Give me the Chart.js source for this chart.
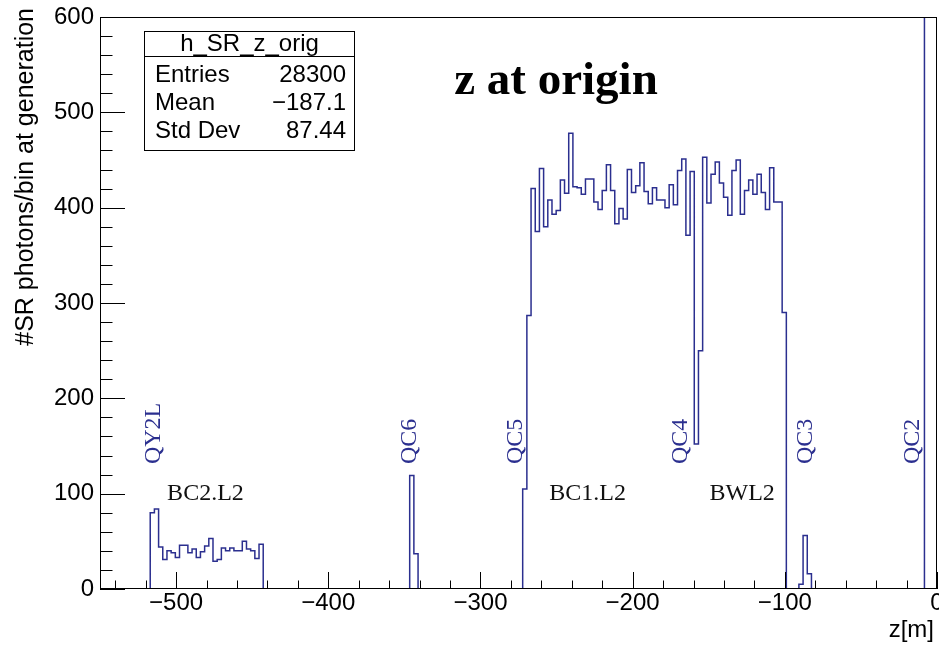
<!DOCTYPE html>
<html>
<head>
<meta charset="utf-8">
<script src="https://cdn.jsdelivr.net/npm/chart.js@4.4.0/dist/chart.umd.min.js"></script>
<style>
  html, body { margin: 0; padding: 0; background: #fff; }
</style>
</head>
<body>
<canvas id="c" width="939" height="645"></canvas>
<script>
// h_SR_z_orig : 200 bins from -550 m to 0 m
const zMin = -550;
const zMax = 0;
const nBins = 200;

// bin contents, 20 bins per row (last row: QC2 bins go off scale)
const counts = [
  0, 0, 0, 0, 0, 0, 0, 0, 0, 0, 0, 0, 80, 84, 44, 31, 40, 38, 33, 46,
  46, 38, 42, 33, 39, 45, 53, 29, 31, 43, 40, 43, 40, 40, 50, 42, 40, 32, 47, 0,
  0, 0, 0, 0, 0, 0, 0, 0, 0, 0, 0, 0, 0, 0, 0, 0, 0, 0, 0, 0,
  0, 0, 0, 0, 0, 0, 0, 0, 0, 0, 0, 0, 0, 0, 119, 37, 0, 0, 0, 0,
  0, 0, 0, 0, 0, 0, 0, 0, 0, 0, 0, 0, 0, 0, 0, 0, 0, 0, 0, 0,
  0, 105, 287, 420, 375, 441, 380, 408, 393, 397, 429, 415, 478, 422, 421, 414, 430, 430, 406, 398,
  418, 445, 418, 383, 399, 388, 440, 416, 423, 447, 417, 404, 421, 408, 408, 400, 424, 403, 439, 451,
  371, 438, 152, 250, 453, 405, 435, 448, 426, 411, 392, 439, 450, 393, 418, 429, 414, 435, 416, 398,
  442, 406, 406, 290, 0, 0, 0, 5, 56, 16, 0, 0, 0, 0, 0, 0, 0, 0, 0, 0,
  0, 0, 0, 0, 0, 0, 0, 0, 0, 0, 0, 0, 0, 0, 0, 0, 0, 640, 660, 620
];

const xTicks = [-500, -400, -300, -200, -100, 0];
const yTicks = [0, 100, 200, 300, 400, 500, 600];
const xMinorStep = 20;
const yMinorStep = 20;

// magnet names (blue, vertical) and their z
const magnetNames = ['QY2L', 'QC6', 'QC5', 'QC4', 'QC3', 'QC2'];
const magnetZ = [-514.5, -346.5, -277, -168.5, -86.5, -16];

// section names (black) and their z
const sectionNames = ['BC2.L2', 'BC1.L2', 'BWL2'];
const sectionZ = [-480.7, -229.6, -128];

// stats box
const statsTitle = 'h_SR_z_orig';
const statsLabels = ['Entries', 'Mean', 'Std Dev'];
const statsValues = ['28300', '\u2212187.1', '87.44'];

const binW = (zMax - zMin) / nBins;
const points = counts.map((c, i) => ({ x: zMin + i * binW, y: c }));
points.push({ x: zMax, y: counts[nBins - 1] });

const blue = '#2b2f8f';
const sans = '"Liberation Sans", Arial, Helvetica, sans-serif';
const serif = '"Liberation Serif", "Times New Roman", serif';

function fmt(v) {
  return v < 0 ? '\u2212' + Math.abs(v) : String(v);
}

const rootFrame = {
  id: 'rootFrame',
  afterDraw(chart) {
    const ctx = chart.ctx;
    const a = chart.chartArea;
    const x = chart.scales.x;
    const y = chart.scales.y;
    ctx.save();

    // frame
    ctx.strokeStyle = '#000';
    ctx.lineWidth = 1;
    ctx.strokeRect(Math.round(a.left) + 0.5, Math.round(a.top) + 0.5,
      Math.round(a.right - a.left) - 1, Math.round(a.bottom - a.top) - 1);

    // ticks pointing inside
    ctx.beginPath();
    for (let v = Math.ceil(zMin / xMinorStep) * xMinorStep; v <= zMax; v += xMinorStep) {
      const px = Math.round(x.getPixelForValue(v)) + 0.5;
      const len = v % 100 === 0 ? 17 : 8.5;
      ctx.moveTo(px, a.bottom);
      ctx.lineTo(px, a.bottom - len);
    }
    for (let v = 0; v <= 600; v += yMinorStep) {
      const py = Math.round(y.getPixelForValue(v)) + 0.5;
      const len = v % 100 === 0 ? 25 : 12.5;
      ctx.moveTo(a.left, py);
      ctx.lineTo(a.left + len, py);
    }
    ctx.stroke();

    // axis titles
    ctx.fillStyle = '#000';
    ctx.font = '24px ' + sans;
    ctx.textAlign = 'right';
    ctx.textBaseline = 'alphabetic';
    ctx.fillText('z[m]', 934, 637);
    ctx.save();
    ctx.font = '25px ' + sans;
    ctx.translate(33, 8);
    ctx.rotate(-Math.PI / 2);
    ctx.fillText('#SR photons/bin at generation', 0, 0);
    ctx.restore();

    // magnet labels
    ctx.fillStyle = blue;
    ctx.font = '24px ' + serif;
    ctx.textAlign = 'left';
    ctx.textBaseline = 'middle';
    magnetNames.forEach((name, i) => {
      ctx.save();
      ctx.translate(x.getPixelForValue(magnetZ[i]), y.getPixelForValue(131));
      ctx.rotate(-Math.PI / 2);
      ctx.fillText(name, 0, 0);
      ctx.restore();
    });

    // section labels
    ctx.fillStyle = '#111';
    ctx.textAlign = 'center';
    sectionNames.forEach((name, i) => {
      ctx.fillText(name, x.getPixelForValue(sectionZ[i]), y.getPixelForValue(100));
    });

    // title
    ctx.fillStyle = '#000';
    ctx.font = 'bold 47px ' + serif;
    ctx.textBaseline = 'alphabetic';
    ctx.fillText('z at origin', 556, 94);

    // stats box
    const bx = 144.5, by = 31.5, bw = 210, bh = 119;
    ctx.fillStyle = '#fff';
    ctx.fillRect(bx, by, bw, bh);
    ctx.strokeStyle = '#000';
    ctx.strokeRect(bx, by, bw, bh);
    ctx.beginPath();
    ctx.moveTo(bx, 56.5);
    ctx.lineTo(bx + bw, 56.5);
    ctx.stroke();
    ctx.fillStyle = '#000';
    ctx.font = '24px ' + sans;
    ctx.textBaseline = 'middle';
    ctx.textAlign = 'center';
    ctx.fillText(statsTitle, bx + bw / 2, 44);
    statsLabels.forEach((lab, i) => {
      const ty = 75 + i * 28;
      ctx.textAlign = 'left';
      ctx.fillText(lab, 155, ty);
      ctx.textAlign = 'right';
      ctx.fillText(statsValues[i], 346, ty);
    });

    ctx.restore();
  }
};

new Chart(document.getElementById('c'), {
  type: 'line',
  data: {
    datasets: [{
      label: 'h_SR_z_orig',
      data: points,
      stepped: 'before',
      borderColor: blue,
      borderWidth: 1.5,
      pointRadius: 0,
      fill: false,
      tension: 0
    }]
  },
  options: {
    responsive: false,
    animation: false,
    layout: { padding: { left: 0, right: 2, top: 17, bottom: 0 } },
    plugins: {
      legend: { display: false },
      tooltip: { enabled: false }
    },
    scales: {
      x: {
        type: 'linear',
        min: zMin,
        max: zMax,
        grid: { display: false, drawTicks: false },
        border: { display: false },
        afterBuildTicks: s => { s.ticks = xTicks.map(v => ({ value: v })); },
        afterFit: s => { s.height = 56; s.paddingLeft = 0; s.paddingRight = 0; },
        ticks: {
          padding: 0, color: '#000', maxRotation: 0, autoSkip: false,
          font: { family: sans, size: 24 },
          callback: v => fmt(v)
        }
      },
      y: {
        type: 'linear',
        min: 0,
        max: 600,
        grid: { display: false, drawTicks: false },
        border: { display: false },
        afterBuildTicks: s => { s.ticks = yTicks.map(v => ({ value: v })); },
        afterFit: s => { s.width = 100; s.paddingTop = 0; s.paddingBottom = 0; },
        ticks: {
          padding: 6, color: '#000', autoSkip: false,
          font: { family: sans, size: 24 },
          callback: v => fmt(v)
        }
      }
    }
  },
  plugins: [rootFrame]
});
</script>
</body>
</html>
